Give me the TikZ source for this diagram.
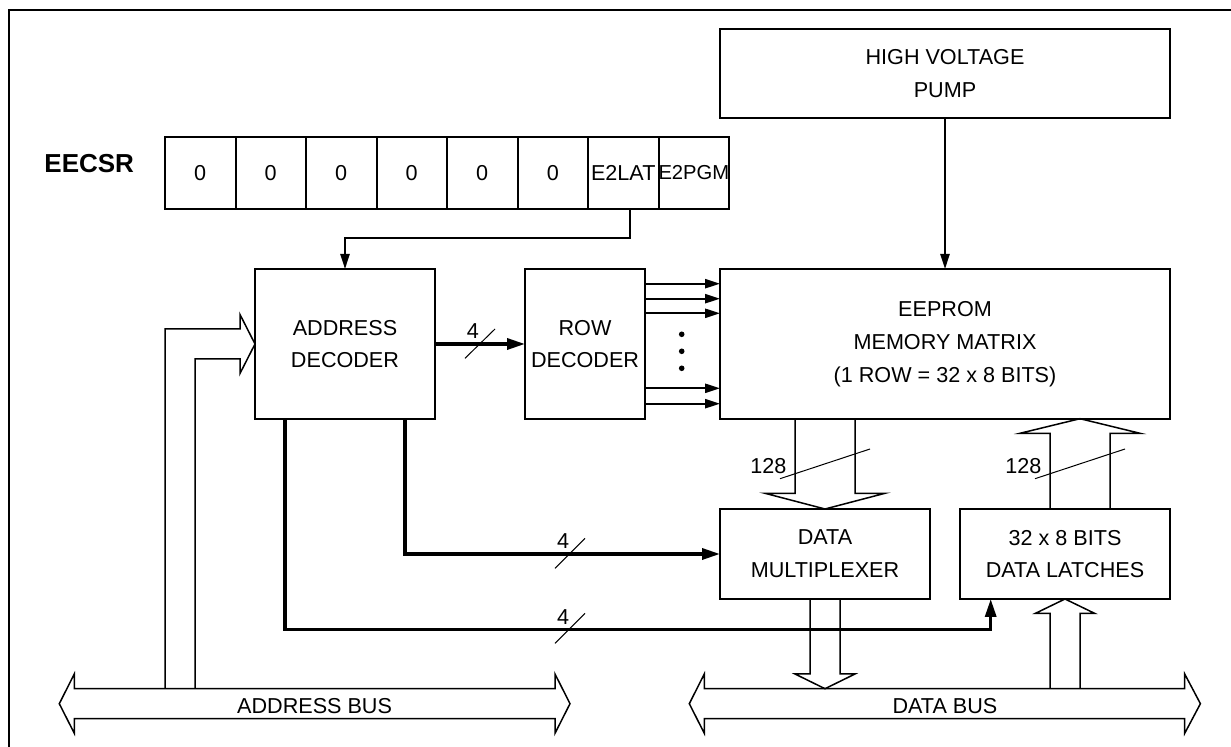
\documentclass[tikz,border=0pt]{standalone}
\usepackage{fontspec}
\setmainfont{Liberation Sans}
\usetikzlibrary{arrows.meta}
\usetikzlibrary{positioning}
\tikzset{
    tnode/.style = {align=center, inner sep=0pt, outer sep=0pt},
    blk_node/.style = {tnode, rectangle, draw=black, line width=1pt},
    cell_node/.style = {blk_node, minimum width=35.25pt, minimum height=35.7pt},
    bit_label/.style = {tnode, font=\fontsize{10.8}{12}\selectfont},
    wire/.style = {line width=0.9pt, -{Triangle[length=7.5pt,width=4.6pt]}},
    fat_wire/.style = {line width=1.65pt, -{Triangle[length=9pt,width=5.5pt]}},
    bus_line/.style = {line width=0.75pt, line join=miter},
    slash/.style = {line width=0.5pt}
}

\begin{document}
\begin{tikzpicture}[x=0.5pt, y=-0.5pt, font=\fontsize{10.8}{16.4}\selectfont]
\useasboundingbox[fill=white] (0,0) rectangle (1231,747);
\draw[line width=1.1pt] (9,760) -- (9,10) -- (1240,10);

% buses
\draw[bus_line] (59.3,703.7) -- (74.3,674) -- (74.3,688.7) -- (555,688.7) -- (555,674) -- (570,703.7)
    -- (555,733.3) -- (555,718.7) -- (74.3,718.7) -- (74.3,733.3) -- cycle;
\draw[bus_line] (689.3,703.7) -- (704.3,674) -- (704.3,688.7) -- (1184.7,688.7) -- (1184.7,674) -- (1200.4,703.7)
    -- (1184.7,733.3) -- (1184.7,718.7) -- (704.3,718.7) -- (704.3,733.3) -- cycle;
\node[tnode] (abus) at (314.6,706.5) {ADDRESS BUS};
\node[tnode] (dbus) at (944.9,706.5) {DATA BUS};

% blocks
\node[blk_node, minimum width=225pt, minimum height=44.5pt] (hv) at (945,73.5) {HIGH VOLTAGE\\PUMP};
\node[blk_node, minimum width=90pt, minimum height=75pt] (addr) at (345,344) {ADDRESS\\DECODER};
\node[blk_node, minimum width=60pt, minimum height=75pt] (row) at (585,344) {ROW\\DECODER};
\node[blk_node, minimum width=225pt, minimum height=75pt] (mem) at (945,344) {EEPROM\\MEMORY MATRIX\\(1 ROW = 32 x 8 BITS)};
\node[blk_node, minimum width=105pt, minimum height=45pt] (mux) at (825,554) {DATA\\MULTIPLEXER};
\node[blk_node, minimum width=105pt, minimum height=45pt] (latch) at (1065,554) {32 x 8 BITS\\DATA LATCHES};

% register
\node[tnode, font=\bfseries\fontsize{13}{15}\selectfont, anchor=east] (eecsr) at (134,163.5) {EECSR};
\node[cell_node] (c0) at (200.25,173) {0};
\node[cell_node, right=0pt of c0] (c1) {0};
\node[cell_node, right=0pt of c1] (c2) {0};
\node[cell_node, right=0pt of c2] (c3) {0};
\node[cell_node, right=0pt of c3] (c4) {0};
\node[cell_node, right=0pt of c4] (c5) {0};
\node[cell_node, right=0pt of c5] (c6) {E2LAT};
\node[cell_node, right=0pt of c6, font=\fontsize{10.1}{12}\selectfont] (c7) {E2PGM};

% connectors
\draw[wire] (hv) -- (mem);
\draw[wire] ([xshift=3.5pt]c6.south) -- ++(0,29.6) -| (addr.north);
\draw[fat_wire] (addr) -- (row);
\draw[wire] ([yshift=30.15pt]row.east) -- ++(75,0);
\draw[wire] ([yshift=22.65pt]row.east) -- ++(75,0);
\draw[wire] ([yshift=15.35pt]row.east) -- ++(75,0);
\draw[wire] ([yshift=-22.15pt]row.east) -- ++(75,0);
\draw[wire] ([yshift=-29.85pt]row.east) -- ++(75,0);
\fill (681.7,334.3) circle[radius=1.4pt] (681.7,351.3) circle[radius=1.4pt] (681.7,368.3) circle[radius=1.4pt];

\draw[bus_line] (165,688.7) -- (165,329) -- (240,329) -- (240,314.5) -- (addr.west)
    -- (240,373.5) -- (240,359) -- (195,359) -- (195,688.7);
\draw[bus_line] (795,418.7) -- (795,493.3) -- (765,493.3) -- (mux.north) -- (885,493.3) -- (855,493.3) -- (855,418.7);
\draw[bus_line] (1050,508.3) -- (1050,433.3) -- (1020,433.3) -- (1080,418.7) -- (1140,433.3) -- (1110,433.3) -- (1110,508.3);
\draw[bus_line] (810,599) -- (810,674) -- (795,674) -- (825,688.7) -- (855,674) -- (840,674) -- (840,599);
\draw[bus_line] (1050,688.7) -- (1050,613.3) -- (1035.5,613.3) -- (latch.south) -- (1094.5,613.3) -- (1080,613.3) -- (1080,688.7);

\draw[fat_wire] ([xshift=30pt]addr.south) |- (mux.west);
\draw[fat_wire] ([xshift=-30pt]addr.south) -- ++(0,210.6) -| ([xshift=-37.15pt]latch.south);

% bus widths
\draw[slash] (465,358.3) -- (495,329);
\node[bit_label] (w1) at (473,331.5) {4};
\draw[slash] (555,568.3) -- (585,538.3);
\node[bit_label] (w2) at (563,541.5) {4};
\draw[slash] (555,643.3) -- (585,613.3);
\node[bit_label] (w3) at (563,616.7) {4};
\draw[slash] (780,478.7) -- (870,449);
\node[bit_label] (w4) at (768.3,466.2) {128};
\draw[slash] (1035,478.7) -- (1125,449);
\node[bit_label] (w5) at (1023.3,466.2) {128};
\end{tikzpicture}
\end{document}
